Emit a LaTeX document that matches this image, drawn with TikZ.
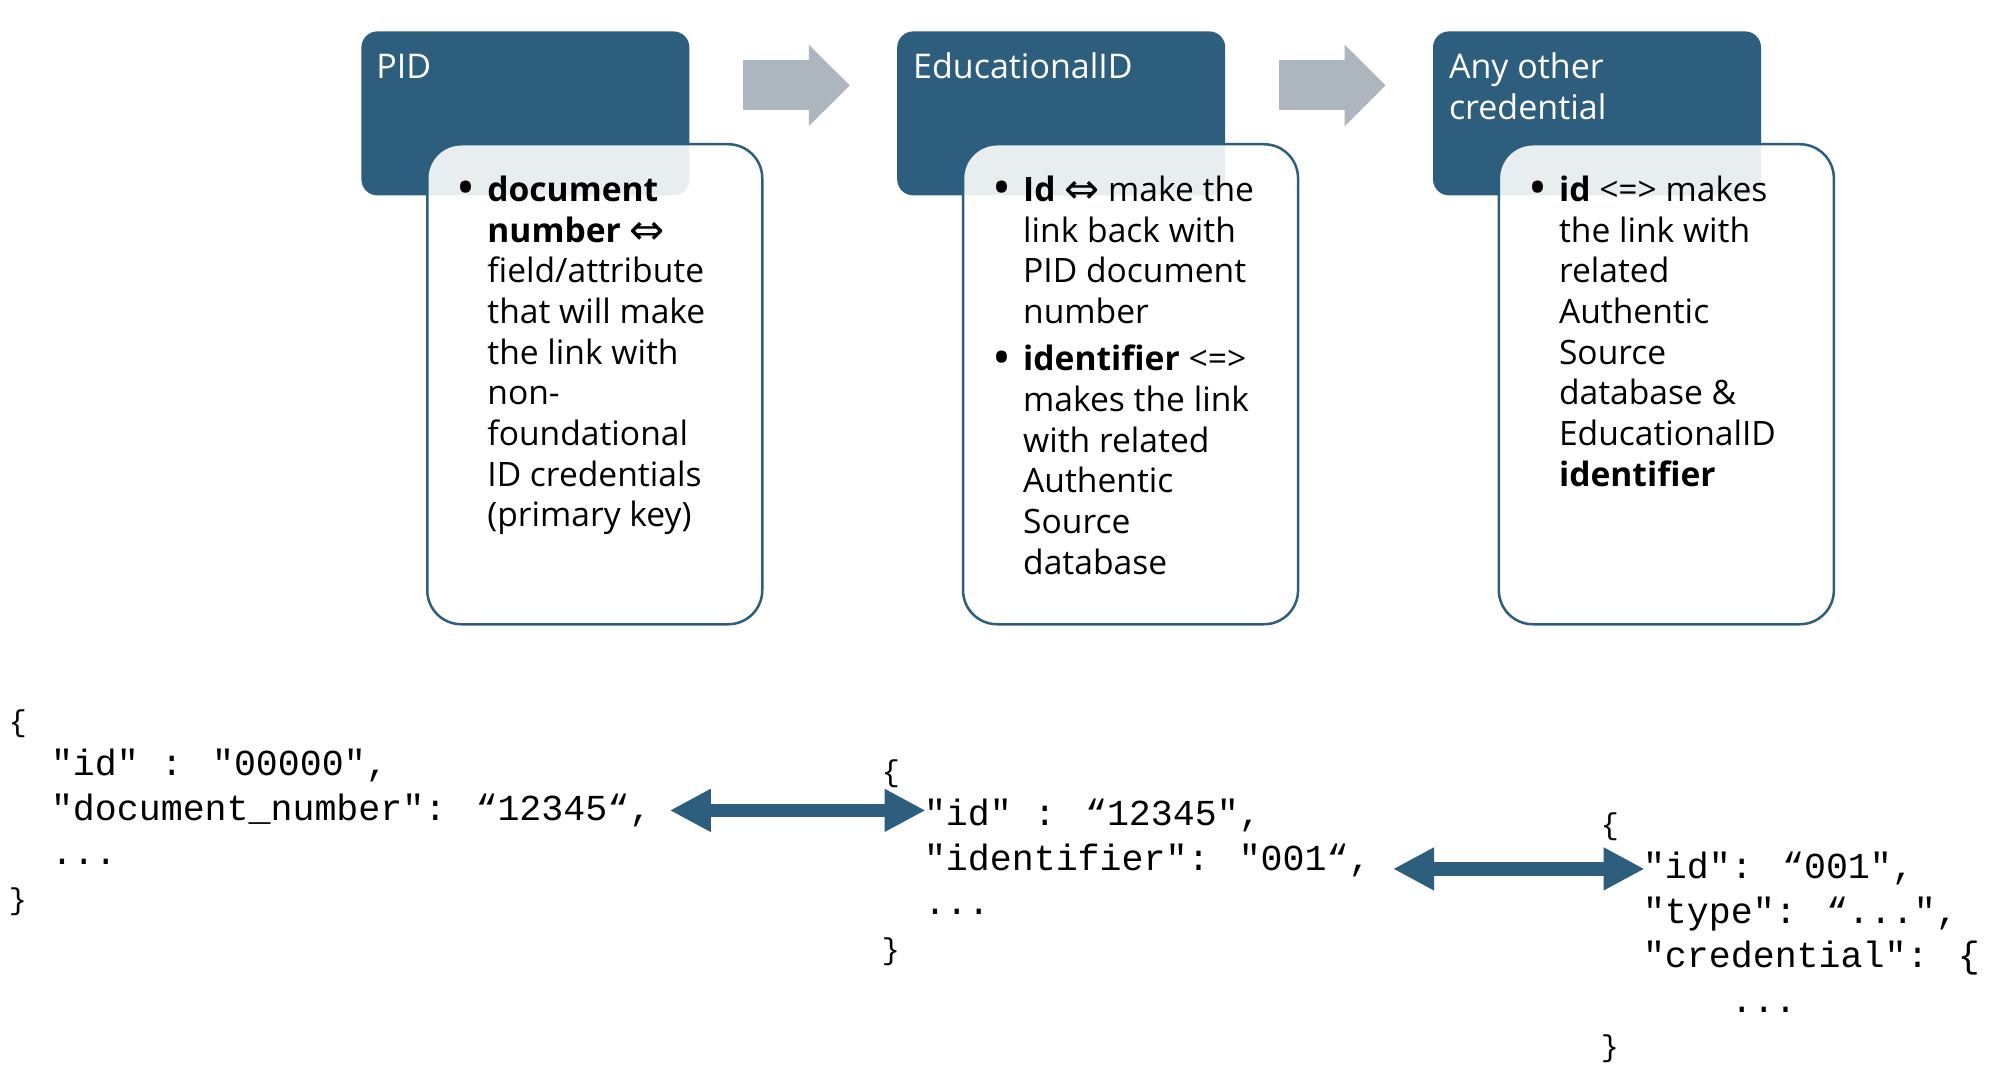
\documentclass[tikz,border=0pt]{standalone}
\usepackage{fontspec}
\setmainfont{Open Sans}
\newfontfamily\codefont{Liberation Mono}
\newfontfamily\symfont{DejaVu Sans}
\usepackage{xcolor}
\usepackage{graphicx}
\usepackage{tikz}
\usetikzlibrary{calc, positioning, arrows.meta, matrix}
\definecolor{slate}{RGB}{46,94,126}
\definecolor{flowgray}{RGB}{173,181,191}
\newcommand{\bul}{\makebox[15.5pt][l]{\raisebox{-2.2pt}{\scalebox{1.5}{\textbullet}}}}
\newcommand{\ind}{\hspace*{15.5pt}}
\newcommand{\dbl}{\raisebox{-1.2pt}{\symfont\fontsize{21pt}{21pt}\selectfont ⇔}}
\tikzset{
    titlebox/.style={rectangle, rounded corners=8pt, fill=slate, minimum width=164pt, minimum height=82pt, inner sep=0pt},
    titletext/.style={text=white, align=left, inner sep=0pt, font=\fontsize{17pt}{20.5pt}\selectfont},
    card/.style={rectangle, rounded corners=17pt, draw=slate, line width=1.25pt, fill=white, fill opacity=0.89, minimum width=167.5pt, minimum height=240pt, inner sep=0pt},
    cardtext/.style={align=left, inner sep=0pt, font=\fontsize{16.8pt}{20.35pt}\selectfont},
    json/.style={
        matrix of nodes,
        nodes={
            anchor=base west,
            inner sep=0pt,
            text height=14pt,
            text depth=4pt,
            font=\codefont\fontsize{18.3pt}{22pt}\selectfont
        },
        column sep=11.9pt,
        row sep=4.25pt,
        inner sep=0pt
    },
    brace/.style={font=\codefont\fontsize{15pt}{17pt}\selectfont}
}
\begin{document}
\begin{tikzpicture}[
        x=0.5pt, y=-0.5pt,
        flow/.style={draw=flowgray, line width=25pt, -{Triangle[length=20.5pt, width=39.5pt]}},
        jsonlink/.style={draw=slate, line width=6.75pt, {Triangle[length=20.5pt, width=20pt]}-{Triangle[length=20.5pt, width=20pt]}}
    ]
        \path[use as bounding box, fill=white] (0,0) rectangle (2002,1074);

        % Title boxes
        \node[titlebox, anchor=north west] (pidhead) at (361,31) {};
        \node[titlebox, right=103.5pt of pidhead] (eduhead) {};
        \node[titlebox, right=103.5pt of eduhead] (anyhead) {};

        \node[titletext, below right=10.5pt and 7.5pt of pidhead.north west] (pidtitle) {\rule{0pt}{13pt}PID};
        \node[titletext, below right=10.5pt and 8pt of eduhead.north west] (edutitle) {\rule{0pt}{13pt}EducationalID};
        \node[titletext, below right=10.5pt and 8pt of anyhead.north west] (anytitle) {\rule{0pt}{13pt}Any other\\credential};

        % Cards
        \node[card, below right=56pt and 32.5pt of pidhead.north west] (pidcard) {};
        \node[card, below right=56pt and 32.5pt of eduhead.north west] (educard) {};
        \node[card, below right=56pt and 32.5pt of anyhead.north west] (anycard) {};

        \node[cardtext, below right=16pt and 15pt of pidcard.north west] (pidtext) {\rule{0pt}{13pt}\bul\textbf{document}\\
            \ind\textbf{number} \dbl\\
            \ind field/attribute\\
            \ind that will make\\
            \ind the link with\\
            \ind non-\\
            \ind foundational\\
            \ind ID credentials\\
            \ind (primary key)};
        \node[cardtext, below right=16pt and 15pt of educard.north west] (edutext) {\rule{0pt}{13pt}\bul\textbf{Id} \dbl{} make the\\
            \ind link back with\\
            \ind PID document\\
            \ind number\\[3.25pt]
            \bul\textbf{identifier} <=>\\
            \ind makes the link\\
            \ind with related\\
            \ind Authentic\\
            \ind Source\\
            \ind database};
        \node[cardtext, below right=16pt and 15pt of anycard.north west] (anytext) {\rule{0pt}{13pt}\bul\textbf{id} <=> makes\\
            \ind the link with\\
            \ind related\\
            \ind Authentic\\
            \ind Source\\
            \ind database \&\\
            \ind EducationalID\\
            \ind\textbf{identifier}};

        % Flow arrows
        \draw[flow] ([shift={(26.5pt,14pt)}]pidhead.east) -- ([shift={(-23.5pt,14pt)}]eduhead.west);
        \draw[flow] ([shift={(26.5pt,14pt)}]eduhead.east) -- ([shift={(-23.5pt,14pt)}]anyhead.west);

        % JSON samples
        \matrix[json, anchor=north west] (pidjson) at (8,703) {
            |[brace]| \{ & \\
            & "id" : "00000", \\
            & "document\_number": “12345“, \\
            & ... \\
            |[brace]| \} & \\
        };
        \matrix[json, anchor=north west] (edujson) at (881,753) {
            |[brace]| \{ & \\
            & "id" : “12345", \\
            & "identifier": "001“, \\
            & ... \\
            |[brace]| \} & \\
        };
        \matrix[json, anchor=north west] (anyjson) at (1600,806) {
            |[brace]| \{ & \\
            & "id": “001", \\
            & "type": “...", \\
            & "credential": \{ \\
            & \hspace*{43.9pt}... \\
            |[brace]| \} & \\
        };

        % Links
        \draw[jsonlink] ([xshift=9pt]pidjson-3-2.east) -- ([xshift=1pt]edujson-2-2.west |- pidjson-3-2.east);
        \draw[jsonlink] ([xshift=11pt]edujson-3-2.east |- anyjson-2-2.west) -- ([xshift=1pt]anyjson-2-2.west);

    \end{tikzpicture}
\end{document}
